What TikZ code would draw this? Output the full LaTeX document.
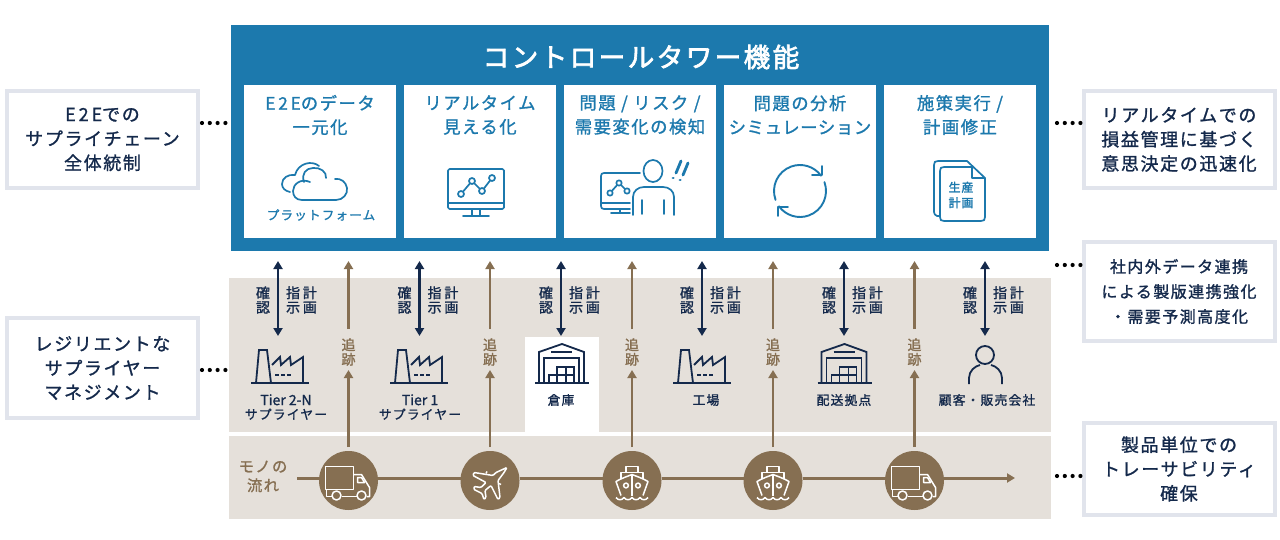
\documentclass[tikz,border=0pt]{standalone}
\usepackage{fontspec}
\setmainfont{Noto Sans CJK JP}[LetterSpace=9,FakeBold=1.2]
\usetikzlibrary{arrows.meta}
\definecolor{towerblue}{HTML}{1C79AD}
\definecolor{bandtan}{HTML}{E5E0DA}
\definecolor{flowbrown}{HTML}{866F52}
\definecolor{inknavy}{HTML}{14294B}
\definecolor{goalrim}{HTML}{E1E4EC}
\newcommand{\fs}[2]{\fontsize{#1}{#2}\selectfont}
\newcommand{\wide}[1]{{\addfontfeature{LetterSpace=16}#1}}
\tikzset{
	panelbox/.style={fill=#1,inner sep=0pt,outer sep=0pt},
	card/.style={fill=white,inner sep=0pt,outer sep=0pt,minimum width=152pt,minimum height=153pt},
	cardhead/.style={text=towerblue,font=\fs{17.3}{24},align=center,inner sep=0pt},
	goalbox/.style={draw=goalrim,line width=4pt,fill=white,text=inknavy,align=center,inner sep=0pt,outer sep=0pt,minimum width=191pt},
	goal/.style={font=\fs{18}{24.3}},
	goalsmall/.style={font=\fs{16}{25}},
	dotline/.style={line width=4.2pt,line cap=round,dash pattern=on 0pt off 7.8pt},
	askarrow/.style={inknavy,line width=2.5pt,{Triangle[width=9pt,length=8pt]}-{Triangle[width=9pt,length=8pt]}},
	trackarrow/.style={flowbrown,line width=2.6pt,-{Triangle[width=9pt,length=8pt]}},
	flowline/.style={flowbrown,line width=3pt},
	asktext/.style={text=inknavy,font=\fs{14}{14.5},align=center,inner sep=0pt},
	sitetext/.style={text=inknavy,font=\fs{12.8}{14},align=center,inner sep=0pt},
	tracktext/.style={text=flowbrown,font=\fs{14}{14.5},align=center,inner sep=0pt},
	carrier/.style={circle,fill=flowbrown,inner sep=0pt,outer sep=0pt,minimum size=59pt},
	icon/.style={towerblue,line width=1.7pt,line join=round,line cap=round},
	siteicon/.style={inknavy,line width=1.8pt},
	moveicon/.style={white,line width=1.5pt,line join=round},
	factory/.pic={
		\draw[siteicon] (0,0) -- (58,0);
		\draw[siteicon] (5,0) -- (8,-33) -- (16,-33) -- (20,0);
		\draw[siteicon] (21,-18) -- (29,-26) -- (30,-18) -- (39,-26) -- (40,-18) -- (52,-26) -- (52,0);
		\draw[siteicon,line width=1.4pt,dash pattern=on 4pt off 2pt] (24,-8) -- (41,-8);
	},
	depot/.pic={
		\draw[siteicon] (0,0) -- (54,0);
		\draw[siteicon] (4,0) -- (4,-31) -- (27,-39) -- (49,-31) -- (49,0);
		\draw[siteicon] (9,0) -- (9,-25) -- (44,-25) -- (44,0);
		\draw[siteicon] (16,-31) -- (37,-31);
		\draw[siteicon,line width=1.4pt] (14,0) -- (14,-8) -- (39,-8) (22,-8) -- (22,-16) -- (39,-16) -- (39,0)
			(22,0) -- (22,-8) (31,0) -- (31,-16);
	},
	truck/.pic={
		\draw[moveicon] (-23,9) rectangle (5,-14);
		\draw[moveicon] (5,-6) -- (13,-6) -- (21,7) -- (21,16) -- (18,16);
		\draw[moveicon] (9,-3) -- (13,-3) -- (16,2) -- (9,2) -- cycle;
		\draw[moveicon] (-22,9) -- (-22,16) -- (-17,16) (-7,16) -- (8,16);
		\draw[moveicon,fill=flowbrown] (-12,15) circle[radius=4.5pt];
		\draw[moveicon,fill=flowbrown] (13,15) circle[radius=4.5pt];
	},
	plane/.pic={
		\draw[moveicon,rounded corners=1pt] (17,-13) -- (6,-8) -- (3,-5) -- (-16,-8) -- (-17,-5) -- (-4,2) -- (-9,7)
			-- (-16,6) -- (-16,9) -- (-8,13) -- (-6,19) -- (-4,17) -- (-5,10) -- (1,5) -- (8,19) -- (10,17) -- (8,0) -- (14,-8) -- cycle;
		\draw[moveicon] (-4,-7) -- (-3,-9) (9,3) -- (11,4);
	},
	ship/.pic={
		\draw[moveicon] (-6,-8) -- (-6,-14) -- (6,-14) -- (6,-8);
		\draw[moveicon] (-11,-2) -- (-11,-8) -- (11,-8) -- (11,-2);
		\draw[moveicon] (-11,15) -- (-16,1) .. controls (-11,-2) and (-5,-4) .. (0,-6) .. controls (5,-4) and (11,-2) .. (16,1) -- (11,15);
		\draw[moveicon] (0,-6) -- (0,15);
		\draw[moveicon] (-6,5) circle[radius=2.4pt] (6,5) circle[radius=2.4pt];
		\foreach \w in {-16,-8,0,8}
			\draw[moveicon] (\w,17) .. controls ({\w+2},20) and ({\w+6},20) .. ({\w+8},17);
	}
}
\begin{document}
\begin{tikzpicture}[x=1pt,y=-1pt]
	\useasboundingbox (0,0) rectangle (1280,540);
	% panels
	\node[panelbox=towerblue,minimum width=818pt,minimum height=226pt] (panel) at (640,138) {};
	\node[panelbox=bandtan,minimum width=822pt,minimum height=154pt] (siteband) at (640,355) {};
	\node[panelbox=bandtan,minimum width=822pt,minimum height=83pt] (flowband) at (640,477.5) {};
	\node[panelbox=white,minimum width=74pt,minimum height=95pt] (depotback) at (562,384.5) {};
	\node[text=white,font=\fs{26.6}{30}\addfontfeature{FakeBold=2.5},inner sep=0pt] (title) at (641,57) {コントロールタワー機能};
	% cards
	\foreach \x/\n in {320/a,480/b,640/c,800/d,960/e}
		\node[card] (card\n) at (\x,161.5) {};
	\node[cardhead] (heada) at (320,115) {\wide{E2E}のデータ\\一元化};
	\node[cardhead] (headb) at (480,115) {リアルタイム\\見える化};
	\node[cardhead] (headc) at (640,115) {問題 / リスク /\\需要変化の検知};
	\node[cardhead] (headd) at (800,115) {問題の分析\\{\addfontfeature{LetterSpace=4}シミュレーション}};
	\node[cardhead] (heade) at (960,115) {施策実行 /\\計画修正};
	% cloud
	\draw[icon] (302,200) -- (336,200) .. controls (343,200) and (348,194) .. (347,188) .. controls (346,182) and (341,178) .. (335,179)
		(326,178) .. controls (327,172) and (320,167) .. (313,168) .. controls (306,168) and (301,174) .. (304,182)
		(310,182) .. controls (301,178) and (293,184) .. (293,191) .. controls (293,196) and (296,200) .. (302,200);
	\draw[icon] (319,166) .. controls (312,160) and (298,163) .. (295,175) .. controls (288,174) and (282,178) .. (282,184) .. controls (282,188) and (285,191) .. (290,192);
	\node[text=towerblue,font=\fs{12.6}{14},inner sep=0pt] (platform) at (321,215) {プラットフォーム};
	% monitor with chart
	\draw[icon,rounded corners=1.5pt] (448,169) rectangle (504,209);
	\draw[icon] (448,203) -- (504,203) (472,209) -- (472,216) (480,209) -- (480,216) (463,216) -- (489,216);
	\draw[icon] (461,194) -- (472,181) -- (482,191) -- (492,178);
	\foreach \p in {(461,194),(472,181),(482,191),(492,178)}
		\draw[icon,fill=white] \p circle[radius=3pt];
	% person at monitor
	\draw[icon] (640,173) -- (604,173) .. controls (602,173) and (601,174) .. (601,176) -- (601,206) .. controls (601,208) and (602,209) .. (604,209) -- (630,209)
		(601,203) -- (630,203) (620,209) -- (620,213) (611,213) -- (630,213);
	\draw[icon] (610,193) -- (619,183) -- (627,191);
	\foreach \p in {(610,193),(619,183),(627,191)}
		\draw[icon,fill=white] \p circle[radius=2.7pt];
	\draw[icon] (653,171) ellipse[x radius=9.5pt,y radius=11pt];
	\draw[icon] (633,215) -- (633,197) .. controls (633,191) and (638,187) .. (644,187) -- (663,187) .. controls (669,187) and (674,191) .. (674,197) -- (674,215)
		(642,200) -- (642,214) (664,200) -- (664,214);
	\draw[icon,line width=2.8pt] (681,161) -- (676,173) (688,163) -- (683,175);
	\draw[icon,line width=2.8pt] (673,178) -- (673.3,178) (680,180) -- (680.3,180);
	% cycle
	\begin{scope}[shift={(800,191)}]
		\draw[icon,line width=1.9pt] (200:26pt) arc[start angle=200,end angle=36,radius=26pt];
		\draw[icon,line width=1.9pt] (20:26pt) arc[start angle=20,end angle=-144,radius=26pt];
	\end{scope}
	\draw[icon,line width=1.9pt] (812,175) -- (822,175) -- (822,166) (788,207) -- (778,207) -- (778,216);
	% document
	\draw[icon] (940,216) -- (937,216) .. controls (935,215) and (934,214) .. (934,212) -- (934,165) .. controls (934,162) and (935,161) .. (938,161) -- (967,161) -- (985,178)
		-- (985,217) .. controls (985,220) and (984,221) .. (981,221) -- (944,221) .. controls (941,221) and (940,220) .. (940,217) -- (940,171) .. controls (940,168) and (941,167) .. (944,167) -- (972,167) -- (972,178) -- (985,178);
	\node[text=towerblue,font=\fs{11.8}{15.5}\addfontfeature{FakeBold=2.5},align=center,inner sep=0pt] (planmark) at (961,195) {生産\\計画};
	% goals
	\node[goalbox,goal,minimum height=97pt] (goala) at (102.5,139.5) {\wide{E2E}での\\サプライチェーン\\全体統制};
	\node[goalbox,goal,minimum height=100pt] (goalb) at (102.5,368) {レジリエントな\\サプライヤー\\マネジメント};
	\node[goalbox,goal,minimum height=97pt] (goalc) at (1179,139.5) {リアルタイムでの\\損益管理に基づく\\意思決定の迅速化};
	\node[goalbox,goalsmall,minimum height=99pt] (goald) at (1179,291.5) {社内外データ連携\\による製版連携強化\\・需要予測高度化};
	\node[goalbox,goal,minimum height=92pt] (goale) at (1179,469) {製品単位での\\トレーサビリティ\\確保};
	\coordinate (rowa) at (0,123);
	\coordinate (rowb) at (0,370);
	\coordinate (rowd) at (0,265);
	\coordinate (rowe) at (0,476);
	\draw[dotline,shorten <=4pt,shorten >=3pt] (goala.east |- rowa) -- (panel.west |- rowa);
	\draw[dotline,shorten <=4pt,shorten >=1pt] (goalb.east |- rowb) -- (siteband.west |- rowb);
	\draw[dotline,shorten <=8pt,shorten >=1pt] (panel.east |- rowa) -- (goalc.west |- rowa);
	\draw[dotline,shorten <=8pt,shorten >=1pt] (panel.east |- rowd) -- (goald.west |- rowd);
	\draw[dotline,shorten <=6pt,shorten >=1pt] (flowband.east |- rowe) -- (goale.west |- rowe);
	% sites
	\foreach \x [count=\i] in {278,419.5,561,702,844,985} {
		\coordinate (asktop\i) at (\x,261);
		\coordinate (askend\i) at (\x,336);
		\draw[askarrow] (asktop\i) -- (askend\i);
		\node[asktext] (ask\i) at (\x-15,300) {確\\認};
		\node[asktext,font=\fs{14}{14.5}\addfontfeature{LetterSpace=20}] (order\i) at (\x+23.5,300) {指計\\示画};
	}
	\pic at (251,383) {factory};
	\pic at (390,383) {factory};
	\pic at (673,383) {factory};
	\pic at (535,383) {depot};
	\pic at (817.5,383) {depot};
	\draw[siteicon] (985,355) circle[radius=9pt];
	\draw[siteicon] (969,384) -- (969,378) .. controls (969,371) and (975,366) .. (980,365) (991,365) .. controls (996,366) and (1002,371) .. (1002,378) -- (1002,384);
	\node[sitetext] (sitea) at (286,407) {{\addfontfeature{LetterSpace=0}\fs{14}{14}Tier 2-N}\\サプライヤー};
	\node[sitetext] (siteb) at (420,407) {{\addfontfeature{LetterSpace=0}\fs{14}{14}Tier 1}\\サプライヤー};
	\node[sitetext] (sitec) at (561,400) {倉庫};
	\node[sitetext] (sited) at (706,400) {工場};
	\node[sitetext] (sitee) at (844,400) {配送拠点};
	\node[sitetext] (sitef) at (987,400) {顧客・販売会社};
	% flow of goods
	\node[text=flowbrown,font=\fs{15.3}{19},align=center,inner sep=0pt] (flowlabel) at (263,476.5) {モノの\\流れ};
	\coordinate (flowstart) at (297,478);
	\coordinate (flowend) at (1015,478);
	\foreach \x/\k [count=\i] in {348.5/truck,490/plane,632/ship,773/ship,914.5/truck} {
		\node[carrier] (stop\i) at (\x,480.5) {};
		\pic at (stop\i) {\k};
		\coordinate (tracktop\i) at (\x,261);
		\node[inner sep=0pt,outer sep=0pt,minimum width=2pt,minimum height=41pt] (trackgap\i) at (\x,349.5) {};
		\node[tracktext] (track\i) at (\x,352) {追\\跡};
		\draw[trackarrow,shorten <=4pt] (stop\i.north) -- (trackgap\i.south);
		\draw[trackarrow] (trackgap\i.north) -- (tracktop\i);
	}
	\draw[flowline] (flowstart) -- (stop1.west |- flowstart);
	\draw[flowline] (stop1.east |- flowstart) -- (stop2.west |- flowstart);
	\draw[flowline] (stop2.east |- flowstart) -- (stop3.west |- flowstart);
	\draw[flowline] (stop3.east |- flowstart) -- (stop4.west |- flowstart);
	\draw[flowline] (stop4.east |- flowstart) -- (stop5.west |- flowstart);
	\draw[flowline,-{Triangle[width=9pt,length=8pt]}] (stop5.east |- flowstart) -- (flowend);
\end{tikzpicture}
\end{document}
